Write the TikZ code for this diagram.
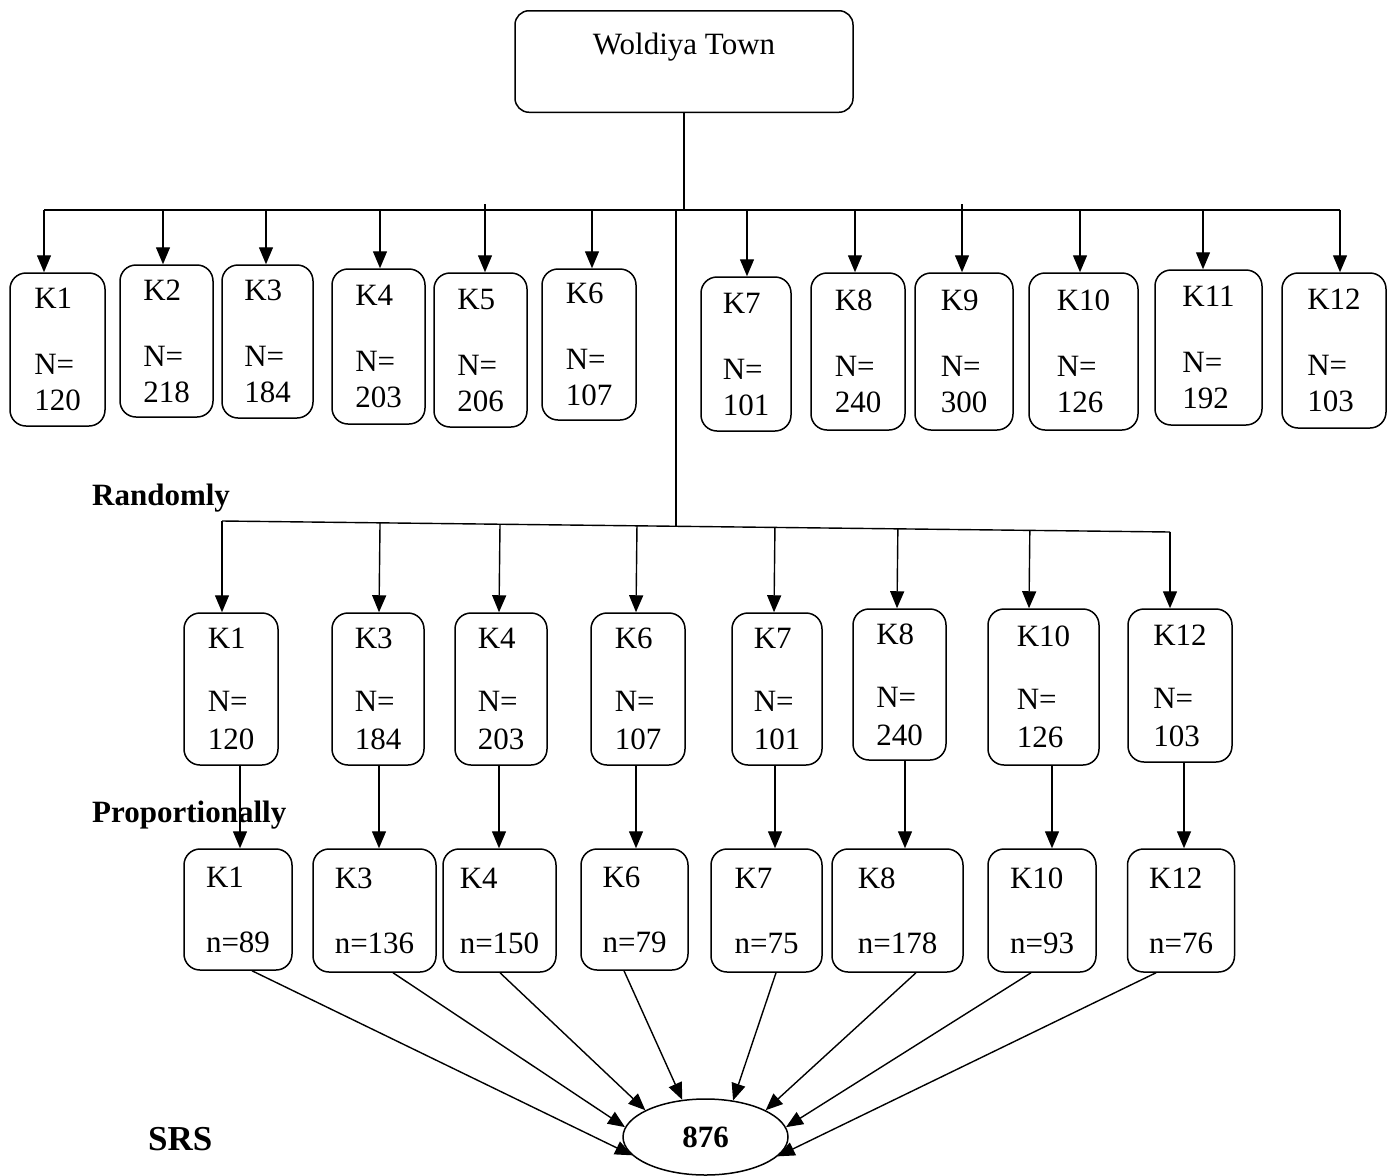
\documentclass[tikz,border=0pt]{standalone}
\usepackage{fontspec}
\setmainfont{Liberation Serif}
\usetikzlibrary{arrows.meta,shapes.geometric,calc}
\begin{document}
\begin{tikzpicture}
[x=1pt,y=-1pt,
every node/.style={font=\fontsize{31}{36}\selectfont},
kbox/.style={draw,line width=1.5pt,rounded corners=16pt,align=left,inner sep=0pt},
link/.style={line width=1.4pt},
arr/.style={line width=1.4pt,-{Triangle[length=17pt,width=14pt]}},
lbl/.style={anchor=base west,inner sep=0pt,font=\fontsize{31}{36}\selectfont\bfseries}]
	\useasboundingbox (0,0) rectangle (1391,1175);
	\node[draw,line width=1.5pt,rounded corners=14pt,anchor=north,minimum width=338pt,
		inner ysep=22pt,text depth=36pt] (town) at (684,10) {Woldiya Town};
	% all kebeles
	\node[kbox,minimum width=95pt,minimum height=153pt] (k1) at (57.5,349.5) {K1\\[30pt]N=\\120};
	\node[kbox,minimum width=93pt,minimum height=152pt] (k2) at (166.5,341) {K2\\[30pt]N=\\218};
	\node[kbox,minimum width=91pt,minimum height=153pt] (k3) at (267.5,341.5) {K3\\[30pt]N=\\184};
	\node[kbox,minimum width=93pt,minimum height=155pt] (k4) at (378.5,346.5) {K4\\[30pt]N=\\203};
	\node[kbox,minimum width=93pt,minimum height=154pt] (k5) at (480.5,350) {K5\\[30pt]N=\\206};
	\node[kbox,minimum width=94pt,minimum height=151pt] (k6) at (589,344.5) {K6\\[30pt]N=\\107};
	\node[kbox,minimum width=90pt,minimum height=154pt] (k7) at (746,354) {K7\\[30pt]N=\\101};
	\node[kbox,minimum width=94pt,minimum height=157pt] (k8) at (858,351.5) {K8\\[30pt]N=\\240};
	\node[kbox,minimum width=98pt,minimum height=157pt] (k9) at (964,351.5) {K9\\[30pt]N=\\300};
	\node[kbox,minimum width=109pt,minimum height=157pt] (k10) at (1083.5,351.5) {K10\\[30pt]N=\\126};
	\node[kbox,minimum width=107pt,minimum height=155pt] (k11) at (1208.5,347.5) {K11\\[30pt]N=\\192};
	\node[kbox,minimum width=104pt,minimum height=155pt] (k12) at (1334,350.5) {K12\\[30pt]N=\\103};
	% randomly selected
	\node[kbox,minimum width=94pt,minimum height=152pt] (r1) at (231,689) {K1\\[27pt]N=\\[2pt]120};
	\node[kbox,minimum width=92pt,minimum height=152pt] (r3) at (378,689) {K3\\[27pt]N=\\[2pt]184};
	\node[kbox,minimum width=92pt,minimum height=152pt] (r4) at (501,689) {K4\\[27pt]N=\\[2pt]203};
	\node[kbox,minimum width=94pt,minimum height=152pt] (r6) at (638,689) {K6\\[27pt]N=\\[2pt]107};
	\node[kbox,minimum width=90pt,minimum height=152pt] (r7) at (777,689) {K7\\[27pt]N=\\[2pt]101};
	\node[kbox,minimum width=93pt,minimum height=151pt] (r8) at (899.5,684.5) {K8\\[27pt]N=\\[2pt]240};
	\node[kbox,minimum width=111pt,minimum height=156pt] (r10) at (1043.5,687) {K10\\[27pt]N=\\[2pt]126};
	\node[kbox,minimum width=104pt,minimum height=153pt] (r12) at (1180,685.5) {K12\\[27pt]N=\\[2pt]103};
	% proportional sample
	\node[kbox,minimum width=108pt,minimum height=121pt] (p1) at (238,909.5) {K1\\[29pt]n=89};
	\node[kbox,minimum width=123pt,minimum height=123pt] (p3) at (374.5,910.5) {K3\\[29pt]n=136};
	\node[kbox,minimum width=113pt,minimum height=123pt] (p4) at (499.5,910.5) {K4\\[29pt]n=150};
	\node[kbox,minimum width=107pt,minimum height=121pt] (p6) at (634.5,909.5) {K6\\[29pt]n=79};
	\node[kbox,minimum width=111pt,minimum height=123pt] (p7) at (766.5,910.5) {K7\\[29pt]n=75};
	\node[kbox,minimum width=131pt,minimum height=123pt] (p8) at (897.5,910.5) {K8\\[29pt]n=178};
	\node[kbox,minimum width=108pt,minimum height=123pt] (p10) at (1042,910.5) {K10\\[29pt]n=93};
	\node[kbox,minimum width=107pt,minimum height=123pt] (p12) at (1181,910.5) {K12\\[29pt]n=76};
	\node[draw,ellipse,line width=1.5pt,minimum width=165pt,minimum height=76pt,inner sep=0pt,
		font=\fontsize{31}{36}\selectfont\bfseries] (total) at (705.5,1137) {876};
	\node[lbl] (rand) at (92,505) {Randomly};
	\node[lbl] (prop) at (92,822) {Proportionally};
	\node[lbl,font=\fontsize{35}{40}\selectfont\bfseries] (srs) at (148,1150) {SRS};
	% first split
	\coordinate (bus) at (684,210);
	\draw[link] (town.south) -- (bus);
	\draw[link] (bus -| 44,0) -- (bus -| 1340,0);
	\draw[arr] (bus -| 44,0) -- (k1.north -| 44,0);
	\draw[arr] (bus -| 163,0) -- (k2.north -| 163,0);
	\draw[arr] (bus -| 266,0) -- (k3.north -| 266,0);
	\draw[arr] (bus -| 380,0) -- (k4.north -| 380,0);
	\draw[arr] ([yshift=6pt]bus -| 485,0) -- (k5.north -| 485,0);
	\draw[arr] (bus -| 592,0) -- (k6.north -| 592,0);
	\draw[arr] (bus -| 747,0) -- (k7.north -| 747,0);
	\draw[arr] (bus -| 855,0) -- (k8.north -| 855,0);
	\draw[arr] ([yshift=6pt]bus -| 962,0) -- (k9.north -| 962,0);
	\draw[arr] (bus -| 1080,0) -- (k10.north -| 1080,0);
	\draw[arr] (bus -| 1203,0) -- (k11.north -| 1203,0);
	\draw[arr] (bus -| 1340,0) -- (k12.north -| 1340,0);
	% second split
	\coordinate (b2l) at (222,521);
	\coordinate (b2r) at (1170,532);
	\coordinate (split) at (676,526.3);
	\draw[link] (bus -| split) -- (split);
	\draw[link] (b2l) -- (b2r);
	\draw[arr] (b2l) -- (r1.north -| b2l);
	\draw[arr] ($(b2l)!(r3.north -| 379,0)!(b2r)$) -- (r3.north -| 379,0);
	\draw[arr] ($(b2l)!(r4.north -| 499,0)!(b2r)$) -- (r4.north -| 499,0);
	\draw[arr] ($(b2l)!(r6.north -| 636,0)!(b2r)$) -- (r6.north -| 636,0);
	\draw[arr] ($(b2l)!(r7.north -| 774,0)!(b2r)$) -- (r7.north -| 774,0);
	\draw[arr] ($(b2l)!(r8.north -| 897,0)!(b2r)$) -- (r8.north -| 897,0);
	\draw[arr] ($(b2l)!(r10.north -| 1029,0)!(b2r)$) -- (r10.north -| 1029,0);
	\draw[arr] (b2r) -- (r12.north -| b2r);
	% proportional allocation
	\draw[arr] (r1.south -| 240,0) -- (p1.north -| 240,0);
	\draw[arr] (r3.south -| 379,0) -- (p3.north -| 379,0);
	\draw[arr] (r4.south -| 499,0) -- (p4.north -| 499,0);
	\draw[arr] (r6.south -| 636,0) -- (p6.north -| 636,0);
	\draw[arr] (r7.south -| 775,0) -- (p7.north -| 775,0);
	\draw[arr] (r8.south -| 905,0) -- (p8.north -| 905,0);
	\draw[arr] (r10.south -| 1052,0) -- (p10.north -| 1052,0);
	\draw[arr] (r12.south -| 1184,0) -- (p12.north -| 1184,0);
	% into the total
	\draw[arr] (p1.south -| 252,0) -- (total.194);
	\draw[arr] (p3.south -| 393,0) -- (total.173);
	\draw[arr] (p4.south -| 500,0) -- (total.156);
	\draw[arr] (p6.south -| 624,0) -- (total.122);
	\draw[arr] (p7.south -| 776,0) -- (total.53);
	\draw[arr] (p8.south -| 916,0) -- (total.24);
	\draw[arr] (p10.south -| 1031,0) -- (total.7);
	\draw[arr] (p12.south -| 1156,0) -- (total.345);
\end{tikzpicture}
\end{document}
